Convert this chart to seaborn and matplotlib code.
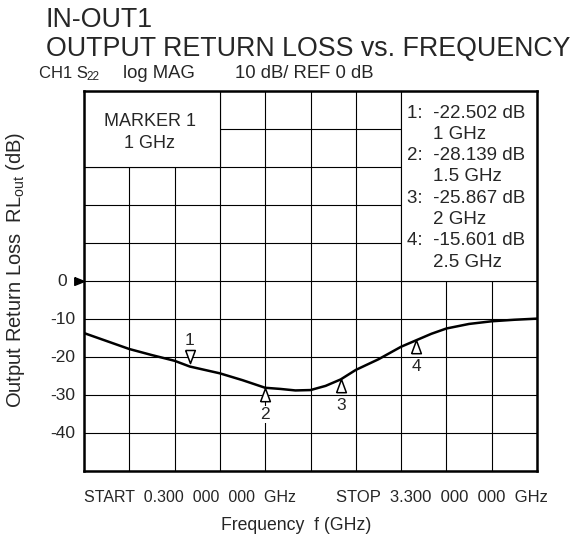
import numpy as np
import matplotlib
matplotlib.use("Agg")
import matplotlib.pyplot as plt
from matplotlib.patches import Rectangle
from matplotlib.path import Path
import seaborn as sns

# curve (GHz, dB)
freq_ghz = [0.30, 0.45, 0.60, 0.75, 0.90, 1.00, 1.10, 1.20, 1.35, 1.50, 1.60, 1.70,
            1.80, 1.90, 2.00, 2.10, 2.25, 2.40, 2.50, 2.60, 2.70, 2.85, 3.00, 3.15, 3.30]
rl_db = [-13.7, -15.8, -17.9, -19.5, -21.0, -22.5, -23.4, -24.3, -26.1, -28.1, -28.4, -28.8,
         -28.7, -27.6, -25.9, -23.4, -20.6, -17.3, -15.6, -13.9, -12.5, -11.3, -10.6, -10.2, -9.9]

marker_ids = ["1", "2", "3", "4"]
marker_freq = [1.0, 1.5, 2.0, 2.5]
marker_db = [-22.502, -28.139, -25.867, -15.601]
marker_up = [False, True, True, True]

y_labels = ["-40", "-30", "-20", "-10"]
y_label_vals = [-40, -30, -20, -10]

sns.set_style("white")
plt.rcParams["font.family"] = ["Liberation Sans", "DejaVu Sans"]
plt.rcParams["mathtext.fontset"] = "custom"
plt.rcParams["mathtext.rm"] = "Liberation Sans"
plt.rcParams["mathtext.it"] = "Liberation Sans"

W, H = 574, 540
fig = plt.figure(figsize=(W / 100, H / 100), dpi=100)


def fpos(x, y):
    return x / W, 1 - y / H


ax = fig.add_axes([84 / W, 1 - 471 / H, 453 / W, 380 / H])

sns.lineplot(x=freq_ghz, y=rl_db, ax=ax, color="black", linewidth=1.8, zorder=4)

ax.set_xlim(0.3, 3.3)
ax.set_ylim(-50, 50)
ax.set_xticks(np.linspace(0.3, 3.3, 11))
ax.set_yticks(np.arange(-50, 51, 10))
ax.set_xticklabels([])
ax.set_yticklabels([])
ax.tick_params(length=0)
ax.grid(True, color="black", linewidth=0.8)
ax.set_axisbelow(True)
for s in ax.spines.values():
    s.set_color("black")
    s.set_linewidth(1.8)
ax.set_xlabel("")
ax.set_ylabel("")

# annotation boxes covering the grid
ax.add_patch(Rectangle((0.3, 30), 0.9, 20, facecolor="white", edgecolor="black",
                       linewidth=0.8, zorder=2))
ax.add_patch(Rectangle((2.4, 0), 0.9, 50, facecolor="white", edgecolor="black",
                       linewidth=0.8, zorder=2))

# y labels
for v, lab in zip(y_label_vals, y_labels):
    ax.annotate(lab, xy=(0.3, v), xytext=(-6.5, 0), textcoords="offset points",
                ha="right", va="center", fontsize=12.5)
ax.annotate("0", xy=(0.3, 0), xytext=(-12, 0), textcoords="offset points",
            ha="right", va="center", fontsize=12.5)
ax.plot([0.3], [0], marker=Path([(-1.0, 0.4), (0.0, 0.0), (-1.0, -0.4), (-1.0, 0.4)]),
        markersize=14, color="black", clip_on=False, zorder=5)

# markers
down_tri = Path([(-0.37, 1.3), (0.37, 1.3), (0.0, 0.3), (-0.37, 1.3)])
up_tri = Path([(-0.37, -1.0), (0.37, -1.0), (0.0, 0.0), (-0.37, -1.0)])
for mid, f, v, up in zip(marker_ids, marker_freq, marker_db, marker_up):
    tri, ms, dy = (up_tri, 19, -19) if up else (down_tri, 24.5, 19)
    ax.plot([f], [v], marker=tri, markersize=ms, markerfacecolor="white",
            markeredgecolor="black", markeredgewidth=1.1, linestyle="none", zorder=5)
    ax.annotate(mid, xy=(f, v), xytext=(0, dy), textcoords="offset points",
                ha="center", va="center", fontsize=12.5,
                bbox=dict(boxstyle="square,pad=0.05", fc="white", ec="none"), zorder=5)

# box texts
fig.text(*fpos(150, 121), "MARKER 1", ha="center", va="center", fontsize=13)
fig.text(*fpos(150, 144), "1 GHz", ha="center", va="center", fontsize=13)
readout = []
for mid, f, v in zip(marker_ids, marker_freq, marker_db):
    readout.append((f"{mid}:  {v:.3f} dB", 407))
    readout.append((f"{f:g} GHz", 433))
for i, (txt, x0) in enumerate(readout):
    fig.text(*fpos(x0, 113 + i * 21.3), txt, ha="left", va="center", fontsize=13.5)

# titles and header
fig.text(*fpos(46, 20), "IN-OUT1", ha="left", va="center", fontsize=19.3)
fig.text(*fpos(46, 49), "OUTPUT RETURN LOSS vs. FREQUENCY", ha="left", va="center",
         fontsize=19.3)
fig.text(*fpos(39, 74), "CH1 S", ha="left", va="center", fontsize=12)
fig.text(*fpos(86.5, 77), "22", ha="left", va="center", fontsize=8.5)
fig.text(*fpos(123, 74), "log MAG", ha="left", va="center", fontsize=13.3)
fig.text(*fpos(235, 74), "10 dB/ REF 0 dB", ha="left", va="center", fontsize=13.3)

# bottom
fig.text(*fpos(84, 497), "START  0.300  000  000  GHz", ha="left", va="center",
         fontsize=11.5)
fig.text(*fpos(548, 497), "STOP  3.300  000  000  GHz", ha="right", va="center",
         fontsize=12)
fig.text(*fpos(296, 526), "Frequency  f (GHz)", ha="center", va="center", fontsize=12.7)
fig.text(*fpos(16, 270), r"Output Return Loss  RL$_{\mathrm{out}}$ (dB)", ha="center",
         va="center", rotation=90, fontsize=14.5)

fig.savefig("out.png", dpi=100)
